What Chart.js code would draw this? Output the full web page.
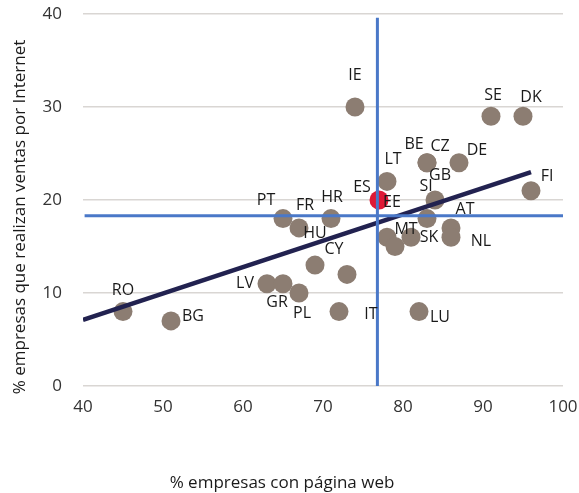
<!DOCTYPE html>
<html>
<head>
<meta charset="utf-8">
<script src="https://cdn.jsdelivr.net/npm/chart.js@4/dist/chart.umd.min.js"></script>
<style>
  html, body { margin: 0; padding: 0; background: #ffffff; }
  #wrap { width: 579px; height: 493px; position: relative; }
</style>
</head>
<body>
<div id="wrap"><canvas id="c" width="579" height="493"></canvas></div>
<script>
// ---- data ----
const countries = ['RO','BG','LV','GR','PL','HU','CY','IT','LU','PT','FR','HR','IE','SE','DK','LT','BE','CZ','DE','ES','EE','MT','SK','SI','GB','AT','NL','FI'];
const webPct    = [45, 51, 63, 65, 67, 69, 73, 72, 82, 65, 67, 71, 74, 91, 95, 78, 83, 83, 87, 77, 78, 79, 81, 83, 84, 86, 86, 96];
const salesPct  = [ 8,  7, 11, 11, 10, 13, 12,  8,  8, 18, 17, 18, 30, 29, 29, 22, 24, 24, 24, 20, 16, 15, 16, 18, 20, 17, 16, 21];
const highlight = 'ES';

// trend line end points
const trendX = [40, 96];
const trendY = [7.1, 23.0];
// reference (average) lines
const avgWeb = 76.8;
const avgWebSpan = [0, 39.6];
const avgSales = 18.3;
const avgSalesSpan = [40.2, 100];

// axis ticks
const xTicks = [40, 50, 60, 70, 80, 90, 100];
const yTicks = [0, 10, 20, 30, 40];

const xTitle = '% empresas con página web';
const yTitle = '% empresas que realizan ventas por Internet';

// ---- label placement (pixel offsets from point centre) ----
const labelOffset = {
  RO:[0,-21], BG:[22,-4], LV:[-22,0], GR:[-6,19], PL:[3,20], HU:[0,-32], CY:[-13,-25],
  IT:[32,3], LU:[21,6], PT:[-17,-18], FR:[6,-22], HR:[1,-21], IE:[0,-32], SE:[2,-21],
  DK:[8,-19], LT:[6,-22], BE:[-13,-18], CZ:[13,-16], DE:[18,-12], ES:[-17,-13],
  EE:[5,-35], MT:[11,-17], SK:[18,0], SI:[-1,-32], GB:[5,-25], AT:[14,-18], NL:[30,4], FI:[16,-14]
};

const FONT = '"Open Sans", "DejaVu Sans", sans-serif';
const pointColor = '#8C7D72';
const highlightColor = '#DE1A36';

const points = countries.map((c, i) => ({ x: webPct[i], y: salesPct[i], c }));
const pointColors = countries.map(c => c === highlight ? highlightColor : pointColor);

const labelsPlugin = {
  id: 'pointLabels',
  afterDatasetsDraw(chart) {
    const ctx = chart.ctx;
    const meta = chart.getDatasetMeta(0);
    ctx.save();
    ctx.font = '16px ' + FONT;
    ctx.fillStyle = '#1a1a1a';
    ctx.textAlign = 'center';
    ctx.textBaseline = 'middle';
    meta.data.forEach((el, i) => {
      const c = countries[i];
      const off = labelOffset[c] || [0, -20];
      ctx.fillText(c, el.x + off[0], el.y + off[1]);
    });
    ctx.restore();
  }
};

const titlesPlugin = {
  id: 'axisTitles',
  afterDraw(chart) {
    const ctx = chart.ctx;
    ctx.save();
    ctx.font = '17px ' + FONT;
    ctx.fillStyle = '#1a1a1a';
    ctx.textAlign = 'center';
    ctx.textBaseline = 'middle';
    ctx.fillText(xTitle, 282, 483);
    ctx.translate(20, 217);
    ctx.rotate(-Math.PI / 2);
    ctx.fillText(yTitle, 0, 0);
    ctx.restore();
  }
};

function zeroPad(scale) {
  scale.paddingTop = 0; scale.paddingBottom = 0;
  scale.paddingLeft = 0; scale.paddingRight = 0;
}

new Chart(document.getElementById('c'), {
  type: 'scatter',
  data: {
    datasets: [
      {
        label: 'países',
        data: points,
        pointRadius: 9.5,
        pointHoverRadius: 9.5,
        pointBackgroundColor: pointColors,
        pointBorderWidth: 0,
        pointBorderColor: pointColors,
        showLine: false,
        order: 3
      },
      {
        label: 'tendencia',
        type: 'line',
        data: trendX.map((x, i) => ({ x, y: trendY[i] })),
        borderColor: '#222250',
        borderWidth: 4.5,
        pointRadius: 0,
        fill: false,
        order: 2
      },
      {
        label: 'media web',
        type: 'line',
        data: avgWebSpan.map(y => ({ x: avgWeb, y })),
        borderColor: '#4A78C8',
        borderWidth: 3,
        pointRadius: 0,
        fill: false,
        order: 1
      },
      {
        label: 'media ventas',
        type: 'line',
        data: avgSalesSpan.map(x => ({ x, y: avgSales })),
        borderColor: '#4A78C8',
        borderWidth: 3,
        pointRadius: 0,
        fill: false,
        order: 1
      }
    ]
  },
  options: {
    responsive: false,
    devicePixelRatio: 1,
    animation: false,
    events: [],
    layout: { padding: { left: 0, right: 16, top: 14, bottom: 0 } },
    plugins: {
      legend: { display: false },
      tooltip: { enabled: false }
    },
    scales: {
      x: {
        type: 'linear',
        min: xTicks[0],
        max: xTicks[xTicks.length - 1],
        afterBuildTicks(scale) { scale.ticks = xTicks.map(v => ({ value: v })); },
        afterFit(scale) { scale.height = 493 - 386; zeroPad(scale); },
        grid: { display: false, drawTicks: false },
        border: { display: false },
        ticks: { font: { family: FONT, size: 17 }, color: '#333333', padding: 11, maxRotation: 0 }
      },
      y: {
        type: 'linear',
        min: yTicks[0],
        max: yTicks[yTicks.length - 1],
        afterBuildTicks(scale) { scale.ticks = yTicks.map(v => ({ value: v })); },
        afterFit(scale) { scale.width = 83; zeroPad(scale); },
        grid: { color: '#D9D6D3', lineWidth: 1.5, drawTicks: false },
        border: { display: false },
        ticks: { font: { family: FONT, size: 17 }, color: '#333333', padding: 21 }
      }
    }
  },
  plugins: [labelsPlugin, titlesPlugin]
});
</script>
</body>
</html>
